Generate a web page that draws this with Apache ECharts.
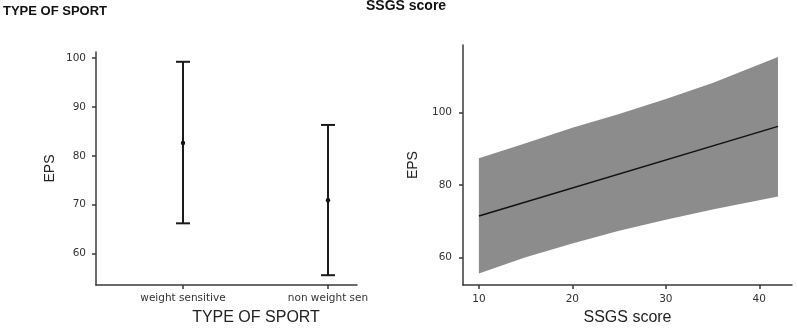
<!DOCTYPE html>
<html>
<head>
<meta charset="utf-8">
<script src="https://cdn.jsdelivr.net/npm/echarts@6/dist/echarts.min.js"></script>
<style>
  html, body { margin: 0; padding: 0; background: #fff; }
  #chart { width: 797px; height: 331px; }
</style>
</head>
<body>
<div id="chart"></div>
<script>
// left panel: EPS by type of sport (mean with interval)
const sportTypes = ['weight sensitive', 'non weight sen'];
const sportPos = [1, 2];
const epsMean = [82.6, 70.9];
const epsLow = [66.2, 55.6];
const epsHigh = [99.2, 86.3];

// right panel: EPS vs SSGS score (fit line + band)
const ssgsX = [10, 15, 20, 25, 30, 35, 42];
const bandUpper = [87.4, 91.5, 95.8, 99.6, 103.8, 108.2, 115.4];
const bandLower = [55.5, 60.0, 63.8, 67.3, 70.4, 73.2, 76.8];
const fitX = [10, 42];
const fitY = [71.4, 96.2];

const axisColor = '#3a3a3a';
const labelFont = { color: '#333', fontSize: 10.5, fontFamily: 'DejaVu Sans' };
const nameFont = { color: '#222', fontSize: 14, fontFamily: 'Liberation Sans' };

const chart = echarts.init(document.getElementById('chart'));

const axisBase = {
  axisLine: { show: true, lineStyle: { color: axisColor, width: 1.5 } },
  splitLine: { show: false }
};
const ticks = vals => ({ show: true, length: 4, customValues: vals, lineStyle: { color: axisColor, width: 1.5 } });

chart.setOption({
  animation: false,
  title: [
    { text: 'TYPE OF SPORT', left: 3, top: 5, padding: 0,
      textStyle: { fontSize: 13, fontWeight: 900, color: '#111', fontFamily: 'Liberation Sans' } },
    { text: 'SSGS score', left: 366, top: -1, padding: 0,
      textStyle: { fontSize: 14, fontWeight: 900, color: '#111', fontFamily: 'Liberation Sans' } }
  ],
  grid: [
    { left: 96, top: 52, right: 440, bottom: 43 },
    { left: 463, top: 45, right: 5, bottom: 40 }
  ],
  xAxis: [
    Object.assign({}, axisBase, {
      gridIndex: 0, type: 'value', min: 0.4, max: 2.2,
      axisTick: ticks(sportPos),
      axisLabel: Object.assign({}, labelFont, {
        customValues: sportPos, margin: 8,
        formatter: v => sportTypes[sportPos.indexOf(v)] || ''
      }),
      name: 'TYPE OF SPORT', nameLocation: 'middle', nameGap: 25,
      nameTextStyle: Object.assign({}, nameFont, { fontSize: 16, padding: [0, 0, 0, 59] })
    }),
    Object.assign({}, axisBase, {
      gridIndex: 1, type: 'value', min: 8.3, max: 43.5,
      axisTick: ticks([10, 20, 30, 40]),
      axisLabel: Object.assign({}, labelFont, { customValues: [10, 20, 30, 40], margin: 9 }),
      name: 'SSGS score', nameLocation: 'middle', nameGap: 24,
      nameTextStyle: Object.assign({}, nameFont, { fontSize: 16 })
    })
  ],
  yAxis: [
    Object.assign({}, axisBase, {
      gridIndex: 0, type: 'value', min: 53.6, max: 101.2,
      axisTick: ticks([60, 70, 80, 90, 100]),
      axisLabel: Object.assign({}, labelFont, { customValues: [60, 70, 80, 90, 100], margin: 10 }),
      name: 'EPS', nameLocation: 'middle', nameGap: 39, nameTextStyle: nameFont
    }),
    Object.assign({}, axisBase, {
      gridIndex: 1, type: 'value', min: 52.3, max: 118.7,
      axisTick: ticks([60, 80, 100]),
      axisLabel: Object.assign({}, labelFont, { customValues: [60, 80, 100], margin: 11 }),
      name: 'EPS', nameLocation: 'middle', nameGap: 43, nameTextStyle: nameFont
    })
  ],
  series: [
    {
      type: 'custom', xAxisIndex: 0, yAxisIndex: 0,
      data: sportPos.map((x, i) => [x, epsLow[i], epsHigh[i], epsMean[i]]),
      renderItem: (params, api) => {
        const x = api.value(0);
        const lo = api.coord([x, api.value(1)]);
        const hi = api.coord([x, api.value(2)]);
        const mid = api.coord([x, api.value(3)]);
        const cap = 7;
        const style = { stroke: '#1a1a1a', lineWidth: 2 };
        return {
          type: 'group',
          children: [
            { type: 'line', shape: { x1: hi[0], y1: hi[1], x2: lo[0], y2: lo[1] }, style },
            { type: 'line', shape: { x1: hi[0] - cap, y1: hi[1], x2: hi[0] + cap, y2: hi[1] }, style },
            { type: 'line', shape: { x1: lo[0] - cap, y1: lo[1], x2: lo[0] + cap, y2: lo[1] }, style },
            { type: 'circle', shape: { cx: mid[0], cy: mid[1], r: 2.2 }, style: { fill: '#111' } }
          ]
        };
      }
    },
    {
      type: 'custom', xAxisIndex: 1, yAxisIndex: 1,
      data: ssgsX.map((x, i) => [x, bandLower[i], bandUpper[i]]),
      renderItem: (params, api) => {
        if (params.dataIndex !== 0) return null;
        const pts = [];
        ssgsX.forEach((x, i) => pts.push(api.coord([x, bandUpper[i]])));
        for (let i = ssgsX.length - 1; i >= 0; i--) pts.push(api.coord([ssgsX[i], bandLower[i]]));
        return { type: 'polygon', shape: { points: pts }, style: { fill: '#8c8c8c' } };
      }
    },
    {
      type: 'line', xAxisIndex: 1, yAxisIndex: 1,
      data: fitX.map((x, i) => [x, fitY[i]]),
      symbol: 'none', lineStyle: { color: '#111', width: 1.5 }
    }
  ]
});
</script>
</body>
</html>
